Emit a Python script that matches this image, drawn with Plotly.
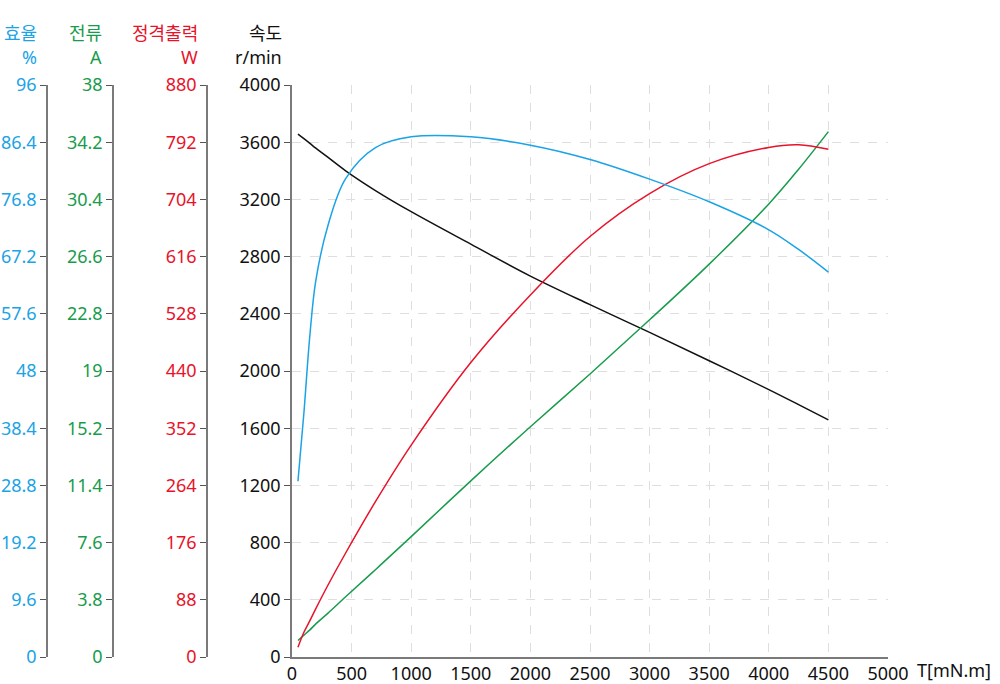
import plotly.graph_objects as go

# ---- data ----
torque = [50, 100, 150, 200, 300, 450, 700, 1000, 1500, 2000, 2500, 3000, 3500, 4000, 4250, 4500]
speed = [3657, 3625, 3592, 3558, 3495, 3400, 3262, 3114, 2887, 2664, 2464, 2270, 2072, 1870, 1765, 1658]
efficiency = [29.5, 41, 54.0, 63.2, 72.3, 80.3, 85.5, 87.3, 87.3, 85.9, 83.5, 80.2, 76.4, 71.7, 68.4, 64.6]
current = [1.1, 1.45, 1.8, 2.2, 2.9, 4.0, 5.8, 8.0, 11.7, 15.3, 18.8, 22.4, 26.1, 30.1, 32.4, 34.9]
power = [15, 38, 56, 74.5, 110, 160, 239, 326, 453, 557, 647, 713, 759, 784, 788, 781]

speed_ticks = [0, 400, 800, 1200, 1600, 2000, 2400, 2800, 3200, 3600, 4000]
eff_ticks = [0, 9.6, 19.2, 28.8, 38.4, 48, 57.6, 67.2, 76.8, 86.4, 96]
eff_labels = ["0", "9.6", "19.2", "28.8", "38.4", "48", "57.6", "67.2", "76.8", "86.4", "96"]
cur_ticks = [0, 3.8, 7.6, 11.4, 15.2, 19, 22.8, 26.6, 30.4, 34.2, 38]
cur_labels = ["0", "3.8", "7.6", "11.4", "15.2", "19", "22.8", "26.6", "30.4", "34.2", "38"]
pow_ticks = [0, 88, 176, 264, 352, 440, 528, 616, 704, 792, 880]
pow_labels = ["0", "88", "176", "264", "352", "440", "528", "616", "704", "792", "880"]
x_ticks = [0, 500, 1000, 1500, 2000, 2500, 3000, 3500, 4000, 4500, 5000]

BLUE = "#1aa3e6"
GREEN = "#189c4c"
RED = "#e8132a"
BLACK = "#111111"
AXIS = "#7a7a7a"
GRID = "#dedede"
FONT = "Noto Sans, Noto Sans CJK KR, sans-serif"
FS = 18

W, H = 1000, 684
MT, MB = 85, 27
def px(x):
    return x / W
def py(y):
    # paper y is measured inside the top/bottom margins
    return (H - MB - y) / (H - MT - MB)

fig = go.Figure()
fig.add_trace(go.Scatter(x=torque, y=speed, mode="lines", line=dict(color=BLACK, width=1.5, shape="spline"),
                         yaxis="y", showlegend=False))
fig.add_trace(go.Scatter(x=torque, y=current, mode="lines", line=dict(color=GREEN, width=1.5, shape="spline"),
                         yaxis="y2", showlegend=False))
fig.add_trace(go.Scatter(x=torque, y=power, mode="lines", line=dict(color=RED, width=1.5, shape="spline"),
                         yaxis="y3", showlegend=False))
fig.add_trace(go.Scatter(x=torque, y=efficiency, mode="lines", line=dict(color=BLUE, width=1.5, shape="spline"),
                         yaxis="y4", showlegend=False))

common_y = dict(showline=True, linecolor=AXIS, linewidth=1.5, ticks="outside", ticklen=6,
                tickcolor="#555555", tickwidth=1, zeroline=False, fixedrange=True, automargin=False)

fig.update_layout(
    width=W, height=H,
    margin=dict(l=0, r=0, t=MT, b=MB, autoexpand=False),
    paper_bgcolor="white", plot_bgcolor="white",
    font=dict(family=FONT, size=FS, color=BLACK),
    xaxis=dict(domain=[px(292), px(888)], range=[0, 5000], tickvals=x_ticks,
               showline=True, linecolor=AXIS, linewidth=1.5, ticks="", zeroline=False,
               showgrid=True, gridcolor=GRID, griddash="dash", gridwidth=1, automargin=False,
               tickfont=dict(size=FS, color=BLACK)),
    yaxis=dict(range=[0, 4000], tickvals=speed_ticks, showgrid=True, gridcolor=GRID,
               griddash="dash", gridwidth=1, tickfont=dict(size=FS, color=BLACK), **common_y),
    yaxis2=dict(range=[0, 38], tickvals=cur_ticks, ticktext=cur_labels, overlaying="y",
                anchor="free", position=px(113), side="left", showgrid=False,
                tickfont=dict(size=FS, color=GREEN), **common_y),
    yaxis3=dict(range=[0, 880], tickvals=pow_ticks, ticktext=pow_labels, overlaying="y",
                anchor="free", position=px(207), side="left", showgrid=False,
                tickfont=dict(size=FS, color=RED), **common_y),
    yaxis4=dict(range=[0, 96], tickvals=eff_ticks, ticktext=eff_labels, overlaying="y",
                anchor="free", position=px(47), side="left", showgrid=False,
                tickfont=dict(size=FS, color=BLUE), **common_y),
)

titles = [
    ("효율", "%", 39, BLUE),
    ("전류", "A", 104, GREEN),
    ("정격출력", "W", 200, RED),
    ("속도", "r/min", 284, BLACK),
]
for name, unit, xr, col in titles:
    fig.add_annotation(text=name, x=px(xr), y=py(33), xref="paper", yref="paper",
                       xanchor="right", yanchor="middle", showarrow=False,
                       font=dict(family=FONT, size=FS, color=col))
    fig.add_annotation(text=unit, x=px(xr), y=py(57), xref="paper", yref="paper",
                       xanchor="right", yanchor="middle", showarrow=False,
                       font=dict(family=FONT, size=FS, color=col))

fig.add_annotation(text="T[mN.m]", x=px(915), y=py(670), xref="paper", yref="paper",
                   xanchor="left", yanchor="middle", showarrow=False,
                   font=dict(family=FONT, size=FS, color=BLACK))

fig.write_html("out.html")
